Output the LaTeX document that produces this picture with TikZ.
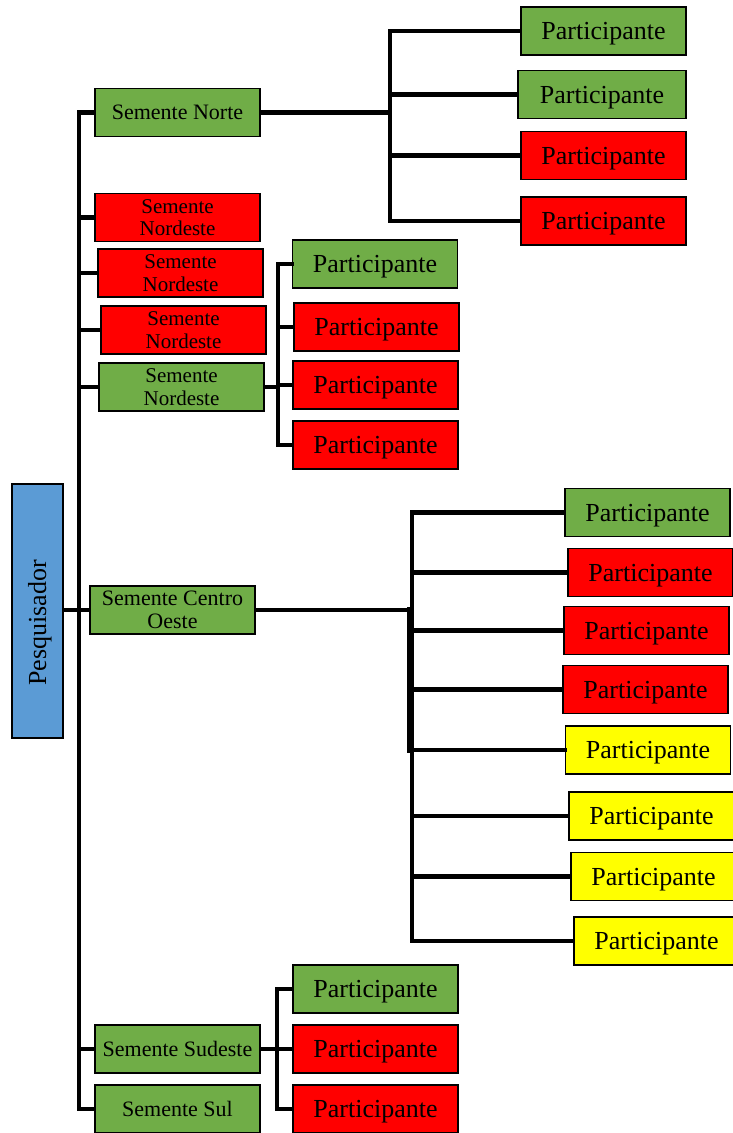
\documentclass[tikz,border=0pt]{standalone}
\usepackage{fontspec}
\setmainfont{Liberation Serif}
\definecolor{bgreen}{HTML}{70AD47}
\definecolor{bred}{HTML}{FF0000}
\definecolor{byellow}{HTML}{FFFF00}
\definecolor{bblue}{HTML}{5B9BD5}
\tikzset{
  box/.style={draw=black, line width=1.5pt, minimum width=165pt, minimum height=48pt, inner sep=0pt, align=center},
  part/.style={box, font=\fontsize{26}{28}\selectfont, text height=17.2pt, text depth=0pt},
  seed/.style={box, font=\fontsize{22}{23}\selectfont},
  seedone/.style={seed, text height=14.6pt, text depth=0pt},
  seedtwo/.style={box, font=\fontsize{21}{22.5}\selectfont},
  conn/.style={draw=black, line width=4.2pt, line cap=rect},
}
\begin{document}
\begin{tikzpicture}[x=1pt,y=-1pt]
\useasboundingbox (0,0) rectangle (732,1133);
% root
\node[box, fill=bblue, rotate=90, minimum width=254pt, minimum height=51pt, font=\fontsize{26}{28}\selectfont, text height=17.2pt, text depth=0pt] (pq) at (37.5,611) {Pesquisador\hspace{24pt}};
% seeds
\node[seedone, fill=bgreen] (sn) at (177.5,112.5) {Semente Norte};
\node[seedtwo, fill=bred] (n1) at (177.5,217.5) {Semente\\Nordeste};
\node[seedtwo, fill=bred] (n2) at (180.5,273) {Semente\\Nordeste};
\node[seedtwo, fill=bred] (n3) at (183.5,330) {Semente\\Nordeste};
\node[seedtwo, fill=bgreen] (n4) at (181.5,387) {Semente\\Nordeste};
\node[seed, fill=bgreen] (co) at (172.5,610) {Semente Centro\\Oeste};
\node[seedone, fill=bgreen] (sd) at (177.5,1049) {Semente Sudeste};
\node[seedone, fill=bgreen] (sul) at (177.5,1109) {Semente Sul};
% participants norte
\node[part, fill=bgreen] (p1) at (603.5,31) {Participante};
\node[part, fill=bgreen, minimum width=168pt] (p2) at (602,94.5) {Participante};
\node[part, fill=bred] (p3) at (603.5,155.5) {Participante};
\node[part, fill=bred] (p4) at (603.5,221) {Participante};
% participants nordeste
\node[part, fill=bgreen] (q1) at (375,264) {Participante};
\node[part, fill=bred] (q2) at (376.5,327) {Participante};
\node[part, fill=bred] (q3) at (375.5,385) {Participante};
\node[part, fill=bred] (q4) at (375.5,445) {Participante};
% participants centro oeste
\node[part, fill=bgreen] (r1) at (647.5,512.5) {Participante};
\node[part, fill=bred] (r2) at (650.5,572.5) {Participante};
\node[part, fill=bred] (r3) at (646.5,630.5) {Participante};
\node[part, fill=bred] (r4) at (645.5,689.5) {Participante};
\node[part, fill=byellow] (r5) at (648,750) {Participante};
\node[part, fill=byellow] (r6) at (651.5,816) {Participante};
\node[part, fill=byellow] (r7) at (653.5,876.5) {Participante};
\node[part, fill=byellow] (r8) at (656.5,941) {Participante};
% participants sudeste
\node[part, fill=bgreen] (s1) at (375.5,989) {Participante};
\node[part, fill=bred] (s2) at (375.5,1049) {Participante};
\node[part, fill=bred] (s3) at (375.5,1109) {Participante};
% fork coordinates
\coordinate (tr) at (79,0);
\coordinate (fn) at (390,0);
\coordinate (fne) at (278,0);
\coordinate (fco) at (412,0);
\coordinate (fsd) at (277,0);
% trunk
\draw[conn] (sn.west -| tr) -- (sul.west -| tr);
\foreach \n in {sn,n1,n2,n3,n4,co,sd,sul} \draw[conn] (\n.west -| tr) -- (\n.west);
\draw[conn] (pq.south |- co.west) -- (co.west -| tr);
% norte fork
\draw[conn] (sn.east) -- (sn.east -| fn);
\draw[conn] (p1.west -| fn) -- (p4.west -| fn);
\foreach \n in {p1,p2,p3,p4} \draw[conn] (\n.west -| fn) -- (\n.west);
% nordeste fork
\draw[conn] (n4.east) -- (n4.east -| fne);
\draw[conn] (q1.west -| fne) -- (q4.west -| fne);
\foreach \n in {q1,q2,q3,q4} \draw[conn] (\n.west -| fne) -- (\n.west);
% centro oeste fork
\draw[conn] (co.east) -- (co.east -| fco);
\draw[conn] (r1.west -| fco) -- (r8.west -| fco);
\draw[conn, line width=6.5pt] ([xshift=-2pt]co.east -| fco) -- ([xshift=-2pt]r5.west -| fco);
\foreach \n in {r1,r2,r3,r4,r5,r6,r7,r8} \draw[conn] (\n.west -| fco) -- (\n.west);
% sudeste fork
\draw[conn] (sd.east) -- (sd.east -| fsd);
\draw[conn] (s1.west -| fsd) -- (s3.west -| fsd);
\foreach \n in {s1,s2,s3} \draw[conn] (\n.west -| fsd) -- (\n.west);
\end{tikzpicture}
\end{document}
